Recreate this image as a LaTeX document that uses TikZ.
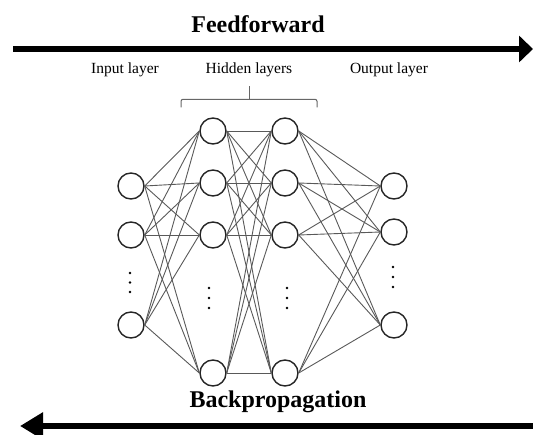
\documentclass[tikz,border=0pt]{standalone}
\usepackage{fontspec}
\setmainfont{Liberation Serif}
\usetikzlibrary{arrows.meta, positioning}

\begin{document}
\begin{tikzpicture}[
  x=1pt, y=-1pt,
  neuron/.style={circle, draw=black!85, line width=1.4pt, minimum size=26pt, inner sep=0pt},
  link/.style={draw=black!65, line width=0.9pt},
  flow/.style={line width=6pt, -{Triangle[length=14pt, width=26pt]}},
  title/.style={font=\fontsize{24}{28}\selectfont\bfseries},
  layer/.style={font=\fontsize{15.5}{18}\selectfont}
]
\useasboundingbox (0,0) rectangle (533,435);

% layers
\node[neuron] (in1) at (131,186) {};
\node[neuron] (in2) at (131,235) {};
\node[neuron] (in3) at (131,325) {};

\node[neuron] (hA1) at (213,131) {};
\node[neuron] (hA2) at (213,183) {};
\node[neuron] (hA3) at (213,235) {};
\node[neuron] (hA4) at (213,373) {};

\node[neuron] (hB1) at (285,131) {};
\node[neuron] (hB2) at (285,183) {};
\node[neuron] (hB3) at (285,235) {};
\node[neuron] (hB4) at (285,373) {};

\node[neuron] (out1) at (394,186) {};
\node[neuron] (out2) at (394,232) {};
\node[neuron] (out3) at (394,325) {};

% weights
\foreach \i in {1,2,3}
  \foreach \j in {1,2,3,4}
    \draw[link] (in\i.east) -- (hA\j.west);
\foreach \i in {1,2,3,4}
  \foreach \j in {1,2,3,4}
    \draw[link] (hA\i.east) -- (hB\j.west);
\foreach \i in {1,2,3,4}
  \foreach \j in {1,2,3}
    \draw[link] (hB\i.east) -- (out\j.west);

% vertical dots
\foreach \y in {273,282.5,292} \fill (130,\y) circle (1.4pt);
\foreach \y in {288,298,308} {
  \fill (209,\y) circle (1.4pt);
  \fill (287,\y) circle (1.4pt);
}
\foreach \y in {267,277,287} \fill (393,\y) circle (1.4pt);

% labels
\node[layer] (inLabel) at (125,70) {Input layer};
\node[layer] (hidLabel) at (249,70) {Hidden layers};
\node[layer] (outLabel) at (389,70) {Output layer};

% bracket over the hidden layers
\draw[draw=black!60, line width=1pt, rounded corners=2pt]
  ([xshift=-32pt, yshift=10pt]hA1.north) |- ([yshift=18pt]hA1.north -| hidLabel)
  -| ([xshift=32pt, yshift=10pt]hB1.north);
\draw[draw=black!60, line width=1pt] ([yshift=18pt]hA1.north -| hidLabel) -- ++(0,-13);

% direction arrows
\node[title] (ff) at (258,24) {Feedforward};
\node[title] (bp) at (278,402) {Backpropagation};
\coordinate (ffStart) at (13,49);
\coordinate (ffEnd) at (533,49);
\coordinate (bpStart) at (533,426);
\coordinate (bpEnd) at (20,426);
\draw[flow] (ffStart) -- (ffEnd);
\draw[flow, -{Triangle[length=23pt, width=26pt]}] (bpStart) -- (bpEnd);
\end{tikzpicture}
\end{document}
